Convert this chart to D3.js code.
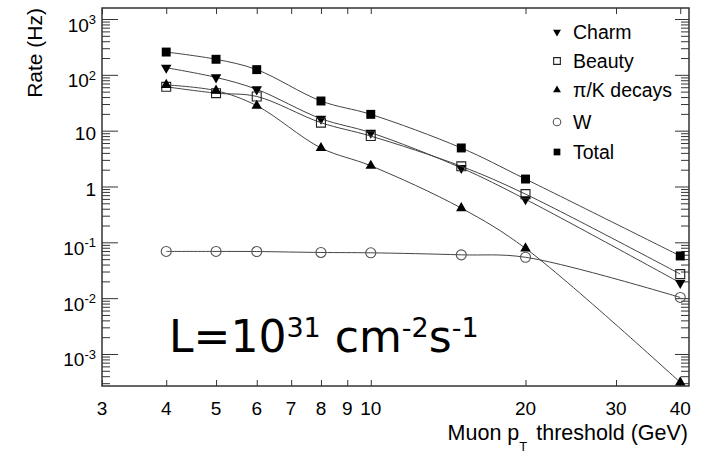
<!DOCTYPE html>
<html>
<head>
<meta charset="utf-8">
<script src="https://cdn.jsdelivr.net/npm/d3@7"></script>
<style>
    body { margin: 0; background: #fff; }
    text { font-family: "Liberation Sans", Arial, sans-serif; fill: #000; }
</style>
</head>
<body>
<script>
'use strict';

// muon pT thresholds (GeV) and rates (Hz)
var ptThresholds = [4, 5, 6, 8, 10, 15, 20, 40];
var charmRate  = [134, 90, 55, 16.4, 9.2, 2.15, 0.59, 0.0188];
var beautyRate = [61, 47, 41, 13.9, 8.0, 2.3, 0.73, 0.027];
var piKRate    = [66, 52, 28, 4.9, 2.35, 0.41, 0.078, 0.00031];
var wRate      = [0.0687, 0.0687, 0.0684, 0.0658, 0.0649, 0.0597, 0.054, 0.0103];
var totalRate  = [256, 190, 124, 34, 19.6, 4.9, 1.36, 0.057];

var xTickValues = [3, 4, 5, 6, 7, 8, 9, 10, 20, 30, 40];
var seriesNames = ['Charm', 'Beauty', '\u03c0/K decays', 'W', 'Total'];

(function() {
    var width = 702,
        height = 454,
        plotLeft = 102, plotRight = 689, plotTop = 8, plotBottom = 386;

    var x = d3.scaleLog().domain([3, 41.6]).range([plotLeft, plotRight]),
        y = d3.scaleLog().domain([2.67e-4, 1575]).range([plotBottom, plotTop]);

    var svg = d3.select('body').append('svg')
        .attr('width', width)
        .attr('height', height);

    var series = [
        {name: seriesNames[0], values: charmRate, marker: 'down', color: '#000'},
        {name: seriesNames[1], values: beautyRate, marker: 'opensquare', color: '#000'},
        {name: seriesNames[2], values: piKRate, marker: 'up', color: '#000'},
        {name: seriesNames[3], values: wRate, marker: 'circle', color: '#555'},
        {name: seriesNames[4], values: totalRate, marker: 'square', color: '#000'}
    ];

    function isMajor(v) {
        var l = Math.log10(v);
        return Math.abs(l - Math.round(l)) < 1e-9;
    }

    // ticks (all pointing inward)
    var yTicks = y.ticks(),
        yMajor = yTicks.filter(isMajor),
        yMinor = yTicks.filter(function(v) { return !isMajor(v); });

    function noLabels(axis) {
        return axis.tickFormat('').tickSizeOuter(0);
    }

    var gAxes = svg.append('g').attr('class', 'axes');

    gAxes.append('g').attr('transform', 'translate(' + plotLeft + ',0)')
        .call(noLabels(d3.axisLeft(y).tickValues(yMajor).tickSize(-16)));
    gAxes.append('g').attr('transform', 'translate(' + plotLeft + ',0)')
        .call(noLabels(d3.axisLeft(y).tickValues(yMinor).tickSize(-8)));
    gAxes.append('g').attr('transform', 'translate(' + plotRight + ',0)')
        .call(noLabels(d3.axisRight(y).tickValues(yMajor).tickSize(-14)));
    gAxes.append('g').attr('transform', 'translate(' + plotRight + ',0)')
        .call(noLabels(d3.axisRight(y).tickValues(yMinor).tickSize(-8)));
    gAxes.append('g').attr('transform', 'translate(0,' + plotBottom + ')')
        .call(noLabels(d3.axisBottom(x).tickValues(xTickValues).tickSize(-6)));
    gAxes.append('g').attr('transform', 'translate(0,' + plotTop + ')')
        .call(noLabels(d3.axisTop(x).tickValues(xTickValues).tickSize(-6)));

    gAxes.selectAll('.domain').remove();
    gAxes.selectAll('line').attr('stroke', '#333').attr('stroke-width', 1);

    svg.append('rect')
        .attr('x', plotLeft).attr('y', plotTop)
        .attr('width', plotRight - plotLeft).attr('height', plotBottom - plotTop)
        .attr('fill', 'none')
        .attr('stroke', '#333')
        .attr('stroke-width', 1.5);

    // y tick labels, 10^n style
    yMajor.forEach(function(v) {
        var p = Math.round(Math.log10(v)),
            ty = y(v),
            t = svg.append('text')
                .attr('x', 96)
                .attr('text-anchor', 'end')
                .style('font-size', '19px');
        if(p === 0 || p === 1) {
            t.attr('y', ty + 9.5).text(p === 0 ? '1' : '10');
        }
        else {
            t.attr('y', ty + 12.5);
            t.append('tspan').text('10');
            t.append('tspan')
                .attr('dy', -7.5)
                .style('font-size', '13px')
                .text(String(p));
        }
    });

    // x tick labels
    svg.append('g').selectAll('text')
        .data(xTickValues)
        .enter().append('text')
            .attr('x', function(d) { return x(d); })
            .attr('y', 415)
            .attr('text-anchor', 'middle')
            .style('font-size', '19px')
            .text(function(d) { return d; });

    // axis titles
    svg.append('text')
        .attr('transform', 'translate(42,8) rotate(-90)')
        .attr('text-anchor', 'end')
        .style('font-size', '21px')
        .text('Rate (Hz)');

    var xTitle = svg.append('text')
        .attr('x', 688)
        .attr('y', 440)
        .attr('text-anchor', 'end')
        .style('font-size', '21.5px');
    xTitle.append('tspan').text('Muon p');
    xTitle.append('tspan').attr('dy', 11).style('font-size', '13px').text('T');
    xTitle.append('tspan').attr('dy', -11).attr('dx', 3).text(' threshold (GeV)');

    // markers
    function drawMarker(sel, kind, color, scale) {
        var s = scale || 1;
        if(kind === 'circle') {
            sel.append('circle')
                .attr('r', 5 * s)
                .attr('fill', 'none')
                .attr('stroke', color)
                .attr('stroke-width', 1.1);
            return;
        }
        var type = (kind === 'up' || kind === 'down') ? d3.symbolTriangle : d3.symbolSquare,
            size = type === d3.symbolTriangle ? 48 * s * s : 80 * s * s;
        sel.append('path')
            .attr('d', d3.symbol().type(type).size(size)())
            .attr('transform', kind === 'down' ? 'rotate(180)' : null)
            .attr('fill', kind === 'opensquare' ? 'none' : color)
            .attr('stroke', kind === 'opensquare' ? '#222' : 'none')
            .attr('stroke-width', 1.1);
    }

    var line = d3.line()
        .x(function(d) { return x(d[0]); })
        .y(function(d) { return y(d[1]); })
        .curve(d3.curveCatmullRom.alpha(0.5));

    var gTraces = svg.append('g').attr('class', 'traces')
        .selectAll('g.trace')
        .data(series)
        .enter().append('g')
            .attr('class', 'trace');

    gTraces.append('path')
        .attr('class', 'js-line')
        .attr('d', function(s) {
            return line(ptThresholds.map(function(pt, i) { return [pt, s.values[i]]; }));
        })
        .attr('fill', 'none')
        .attr('stroke', '#444')
        .attr('stroke-width', 1);

    gTraces.each(function(s) {
        d3.select(this).selectAll('g.point')
            .data(ptThresholds)
            .enter().append('g')
                .attr('class', 'point')
                .attr('transform', function(pt, i) {
                    return 'translate(' + x(pt) + ',' + y(s.values[i]) + ')';
                })
                .each(function() { drawMarker(d3.select(this), s.marker, s.color); });
    });

    // legend
    var legendY = [32, 61, 90, 122, 152];
    var gLegend = svg.append('g').attr('class', 'legend')
        .selectAll('g')
        .data(series)
        .enter().append('g')
            .attr('transform', function(s, i) { return 'translate(557,' + legendY[i] + ')'; });

    gLegend.each(function(s) { drawMarker(d3.select(this), s.marker, s.color, 0.75); });
    gLegend.append('text')
        .attr('x', 16)
        .attr('y', 7)
        .style('font-size', '19.5px')
        .text(function(s) { return s.name; });

    // luminosity annotation
    var lumi = svg.append('text')
        .attr('x', 169)
        .attr('y', 352)
        .style('font-family', '"DejaVu Sans", Verdana, sans-serif')
        .style('font-size', '44px');
    lumi.append('tspan').text('L=10');
    lumi.append('tspan').attr('dy', -15).style('font-size', '27px').text('31');
    lumi.append('tspan').attr('dy', 15).text(' cm');
    lumi.append('tspan').attr('dy', -15).style('font-size', '27px').text('-2');
    lumi.append('tspan').attr('dy', 15).text('s');
    lumi.append('tspan').attr('dy', -15).style('font-size', '27px').text('-1');
})();
</script>
</body>
</html>
